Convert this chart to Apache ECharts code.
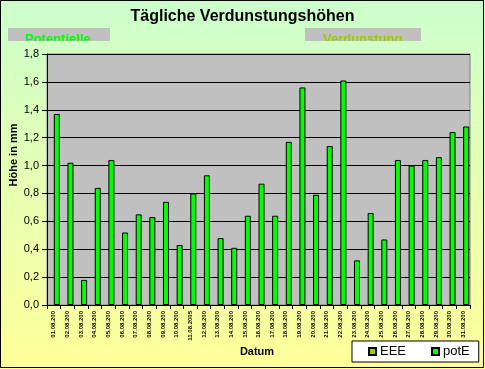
<!DOCTYPE html>
<html><head><meta charset="utf-8">
<script src="https://cdn.jsdelivr.net/npm/echarts@6/dist/echarts.min.js"></script>
<style>html,body{margin:0;padding:0;background:#fff}#c{width:485px;height:369px}</style>
</head><body><div id="c"></div>
<script>
var categories = ["01.08.200","02.08.200","03.08.200","04.08.200","05.08.200","06.08.200","07.08.200","08.08.200","09.08.200","10.08.200","11.08.2005","12.08.200","13.08.200","14.08.200","15.08.200","16.08.200","17.08.200","18.08.200","19.08.200","20.08.200","21.08.200","22.08.200","23.08.200","24.08.200","25.08.200","26.08.200","27.08.200","28.08.200","29.08.200","30.08.200","31.08.200"];
var eeeValues = [null,null,null,null,null,null,null,null,null,null,null,null,null,null,null,null,null,null,null,null,null,null,null,null,null,null,null,null,null,null,null];
var potEValues = [1.37,1.02,0.18,0.84,1.04,0.52,0.65,0.63,0.74,0.43,0.80,0.93,0.48,0.41,0.64,0.87,0.64,1.17,1.56,0.79,1.14,1.61,0.32,0.66,0.47,1.04,1.00,1.04,1.06,1.24,1.28];
var yTicks = {min:0, max:1.8, interval:0.2};

var bgStops = [{offset:0,color:'#CCFFCC'},{offset:1,color:'#FFFF99'}];
var chart = echarts.init(document.getElementById('c'), null, {renderer:'canvas'});
var font = 'Liberation Sans, Arial, sans-serif';
var coverFill = {type:'linear',x:0,y:0,x2:0,y2:369,global:true,colorStops:bgStops};
chart.setOption({
  animation:false,
  backgroundColor:{type:'linear',x:0,y:0,x2:0,y2:1,colorStops:bgStops},
  title:{text:'Tägliche Verdunstungshöhen',left:'center',top:9,padding:0,
    textStyle:{fontFamily:font,fontSize:16,fontWeight:'bold',color:'#000'}},
  legend:{left:352,top:341,padding:[4,9,4,16],itemGap:25,itemWidth:7,itemHeight:7,
    backgroundColor:'#fff',borderColor:'#000',borderWidth:1,borderRadius:0,
    icon:'rect',textStyle:{fontFamily:font,fontSize:13,color:'#000',padding:[0,0,0,-1]},
    data:['EEE','potE']},
  grid:{left:47,right:15,top:54,bottom:64,show:true,backgroundColor:'#C0C0C0',borderColor:'#808080',borderWidth:1},
  xAxis:{type:'category',data:categories,
    axisLine:{lineStyle:{color:'#000',width:1}},
    axisTick:{show:true,interval:0,length:4,lineStyle:{color:'#000'}},
    axisLabel:{interval:0,rotate:90,margin:6,fontFamily:font,fontSize:6,fontWeight:'bold',color:'#000'},
    splitLine:{show:false}},
  yAxis:{type:'value',min:yTicks.min,max:yTicks.max,interval:yTicks.interval,
    axisLine:{show:true,lineStyle:{color:'#000'}},
    axisTick:{show:true,length:5,inside:false,lineStyle:{color:'#000'}},
    axisLabel:{margin:8,fontFamily:font,fontSize:11,color:'#000',
      formatter:function(v){return v.toFixed(1).replace('.',',');}},
    splitLine:{show:true,lineStyle:{color:'#000',width:1}}},
  series:[
    {name:'EEE',type:'bar',data:eeeValues,barWidth:6,barGap:'0%',
      itemStyle:{color:'#99CC00',borderColor:'#000',borderWidth:1}},
    {name:'potE',type:'bar',data:potEValues,barWidth:6,barGap:'0%',
      itemStyle:{color:'#00FF00',borderColor:'#000',borderWidth:1}}
  ],
  graphic:[
    {type:'rect',shape:{x:8,y:28,width:102,height:13},style:{fill:'#C0C0C0'},z:1},
    {type:'text',x:25,y:33,z:2,style:{text:'Potentielle',fill:'#00FF00',font:'bold 13px '+font,textVerticalAlign:'top'}},
    {type:'rect',shape:{x:305,y:28,width:116,height:13},style:{fill:'#C0C0C0'},z:1},
    {type:'text',x:323,y:33,z:2,style:{text:'Verdunstung',fill:'#99CC00',font:'bold 13px '+font,textVerticalAlign:'top'}},
    {type:'rect',shape:{x:8,y:41,width:102,height:7},z:3,style:{fill:coverFill}},
    {type:'rect',shape:{x:305,y:41,width:116,height:7},z:3,style:{fill:coverFill}},
    {type:'text',x:14,y:155,rotation:Math.PI/2,z:3,style:{text:'Höhe in mm',fill:'#000',font:'bold 11px '+font,textAlign:'center',textVerticalAlign:'middle'}},
    {type:'text',x:257,y:352,z:3,style:{text:'Datum',fill:'#000',font:'bold 11px '+font,textAlign:'center',textVerticalAlign:'middle'}},
    {type:'rect',shape:{x:0.5,y:0.5,width:483,height:367},z:10,style:{fill:null,stroke:'#000',lineWidth:1}}
  ]
});
</script></body></html>
